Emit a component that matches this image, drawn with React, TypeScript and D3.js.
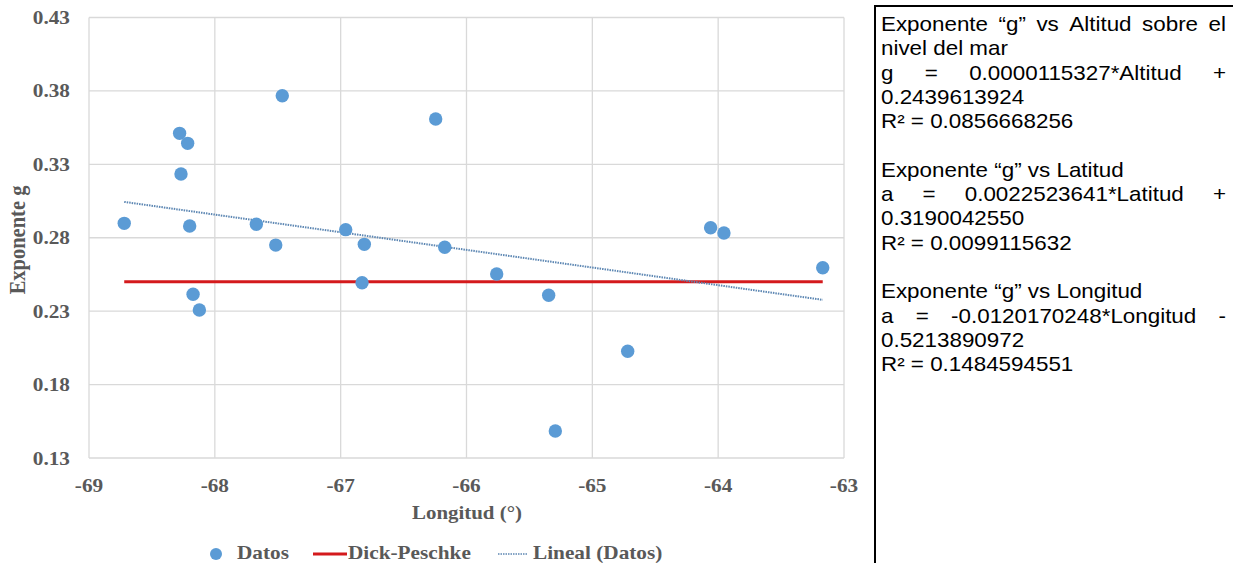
import { useEffect, useRef } from 'react'
import * as d3 from 'd3'

// Longitud (°) and exponente g of each station
const longitudes = [
  -68.72, -68.28, -68.216, -68.269, -68.2, -67.464, -67.67, -67.516, -66.96, -66.812, -66.245,
  -66.173, -65.76, -64.06, -63.954, -63.169, -68.173, -68.123, -66.83, -65.347, -64.719, -65.294,
]
const exponentes = [
  0.2898, 0.3511, 0.3443, 0.3234, 0.288, 0.3767, 0.2892, 0.275, 0.2855, 0.2755, 0.3609,
  0.2735, 0.2553, 0.2868, 0.2832, 0.2596, 0.2415, 0.2308, 0.2494, 0.2408, 0.2027, 0.1484,
]
const xTicks = [-69, -68, -67, -66, -65, -64, -63]
const yTicks = [0.13, 0.18, 0.23, 0.28, 0.33, 0.38, 0.43]
const dickPeschke = 0.25
const trendSlope = -0.0120170248
const trendIntercept = -0.5213890972

const boxLines = [
  { t: 'Exponente “g” vs Altitud sobre el', j: true },
  { t: 'nivel del mar', j: false },
  { t: 'g = 0.0000115327*Altitud +', j: true },
  { t: '0.2439613924', j: false },
  { t: 'R² = 0.0856668256', j: false },
  { t: '', j: false },
  { t: 'Exponente “g” vs Latitud', j: false },
  { t: 'a = 0.0022523641*Latitud +', j: true },
  { t: '0.3190042550', j: false },
  { t: 'R² = 0.0099115632', j: false },
  { t: '', j: false },
  { t: 'Exponente “g” vs Longitud', j: false },
  { t: 'a = -0.0120170248*Longitud -', j: true },
  { t: '0.5213890972', j: false },
  { t: 'R² = 0.1484594551', j: false },
]

const SERIF = '"Liberation Serif", "Times New Roman", serif'
const SANS = '"Liberation Sans", Arial, sans-serif'
const GREY = '#595959'
const BLUE = '#5b9bd5'
const RED = '#d41a1c'
const TREND = '#5d87b3'

function App() {
  const svgRef = useRef<SVGSVGElement>(null)

  useEffect(() => {
    const width = 1233
    const height = 563
    const svg = d3.select(svgRef.current)
    svg.selectAll('*').remove()
    svg.attr('width', width).attr('height', height)

    const x = d3.scaleLinear().domain([-69, -63]).range([89, 844])
    const y = d3.scaleLinear().domain([0.13, 0.43]).range([458, 17.5])

    // stretched bold serif text, like the pasted Excel picture
    const label = (g: any, tx: number, ty: number, txt: string, size: number, anchor: string, sx = 1.15) =>
      g.append('text')
        .attr('transform', `translate(${tx},${ty}) scale(${sx},1)`)
        .attr('text-anchor', anchor)
        .attr('font-family', SERIF)
        .attr('font-weight', 'bold')
        .attr('font-size', size)
        .attr('fill', GREY)
        .text(txt)

    // grid
    const grid = svg.append('g')
    yTicks.forEach(v => {
      grid.append('line')
        .attr('x1', x(-69)).attr('x2', x(-63))
        .attr('y1', y(v)).attr('y2', y(v))
        .attr('stroke', '#d9d9d9').attr('stroke-width', 1.3)
      label(svg, 70, y(v) + 6.5, v.toFixed(2), 18.5, 'end')
    })
    xTicks.forEach(v => {
      grid.append('line')
        .attr('x1', x(v)).attr('x2', x(v))
        .attr('y1', y(0.13)).attr('y2', y(0.43))
        .attr('stroke', '#d9d9d9').attr('stroke-width', 1.3)
      label(svg, x(v), 492, String(v), 18.5, 'middle')
    })

    const [xmin, xmax] = d3.extent(longitudes) as [number, number]

    // Dick-Peschke reference
    svg.append('line')
      .attr('x1', x(xmin)).attr('x2', x(xmax))
      .attr('y1', y(dickPeschke)).attr('y2', y(dickPeschke))
      .attr('stroke', RED).attr('stroke-width', 3)

    // linear trend
    svg.append('line')
      .attr('x1', x(xmin)).attr('x2', x(xmax))
      .attr('y1', y(trendSlope * xmin + trendIntercept))
      .attr('y2', y(trendSlope * xmax + trendIntercept))
      .attr('stroke', TREND).attr('stroke-width', 2)
      .attr('stroke-dasharray', '1.5,1')

    svg.append('g').selectAll('circle')
      .data(longitudes)
      .join('circle')
      .attr('cx', d => x(d))
      .attr('cy', (_d, i) => y(exponentes[i]))
      .attr('r', 6.7)
      .attr('fill', BLUE)

    // axis titles
    label(svg, 467, 519, 'Longitud (°)', 19, 'middle', 1.1)
    svg.append('text')
      .attr('transform', `translate(25,240) rotate(-90) scale(1,1.08)`)
      .attr('text-anchor', 'middle')
      .attr('font-family', SERIF).attr('font-weight', 'bold')
      .attr('font-size', 20.5).attr('fill', GREY)
      .text('Exponente g')

    // legend
    const lg = svg.append('g')
    lg.append('circle').attr('cx', 216).attr('cy', 554).attr('r', 6).attr('fill', BLUE)
    label(lg, 237, 559, 'Datos', 18.5, 'start')
    lg.append('line').attr('x1', 313).attr('x2', 347).attr('y1', 554).attr('y2', 554)
      .attr('stroke', RED).attr('stroke-width', 3)
    label(lg, 348, 559, 'Dick-Peschke', 18.5, 'start')
    lg.append('line').attr('x1', 498).attr('x2', 528).attr('y1', 554).attr('y2', 554)
      .attr('stroke', TREND).attr('stroke-width', 1.5).attr('stroke-dasharray', '1.5,1')
    label(lg, 533, 559, 'Lineal (Datos)', 18.5, 'start')

    // equation box
    svg.append('rect')
      .attr('x', 875).attr('y', 6).attr('width', 400).attr('height', 600)
      .attr('fill', 'none').attr('stroke', '#000').attr('stroke-width', 2)

    const left = 881
    const right = 1226
    const sx = 1.12
    const box = svg.append('g').attr('font-family', SANS).attr('font-size', 20).attr('fill', '#000')
    const put = (txt: string, tx: number, ty: number) =>
      box.append('text').attr('transform', `translate(${tx},${ty}) scale(${sx},1)`).text(txt)
    boxLines.forEach((ln, i) => {
      const by = 31 + i * 24.3
      if (!ln.t) return
      if (!ln.j) {
        put(ln.t, left, by)
        return
      }
      const words = ln.t.split(' ')
      const nodes = words.map(w => put(w, 0, by))
      const widths = nodes.map(n => (n.node() as SVGTextElement).getComputedTextLength() * sx)
      const gap = (right - left - d3.sum(widths)) / (words.length - 1)
      let cx = left
      nodes.forEach((n, k) => {
        n.attr('transform', `translate(${cx},${by}) scale(${sx},1)`)
        cx += widths[k] + gap
      })
    })
  }, [])

  return <svg ref={svgRef} style={{ position: 'absolute', left: 0, top: 0 }} />
}

export default App
